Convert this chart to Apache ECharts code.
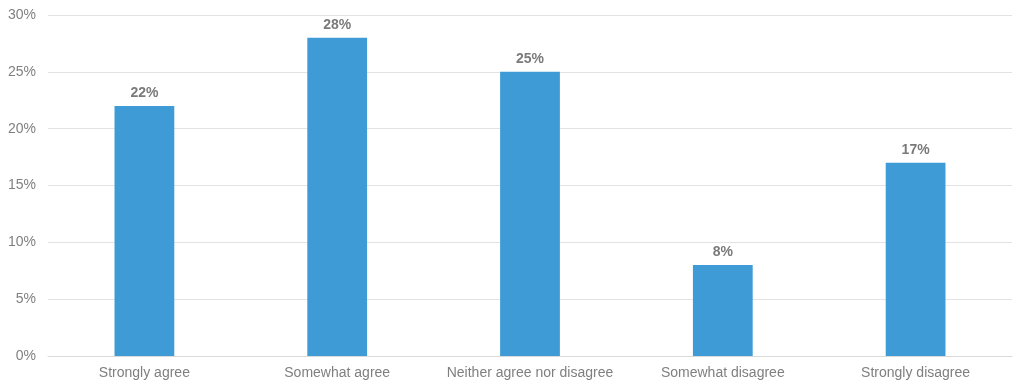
<!DOCTYPE html>
<html><head><meta charset="utf-8">
<script src="https://cdn.jsdelivr.net/npm/echarts@6/dist/echarts.min.js"></script>
<style>html,body{margin:0;padding:0;background:#fff}#c{width:1024px;height:390px}</style>
</head><body><div id="c"></div>
<script>
const categories = ["Strongly agree", "Somewhat agree", "Neither agree nor disagree", "Somewhat disagree", "Strongly disagree"];
const values = [22, 28, 25, 8, 17];
const yTicks = [0, 5, 10, 15, 20, 25, 30];

const chart = echarts.init(document.getElementById('c'));
chart.setOption({
  animation: false,
  grid: { left: 48, right: 12, top: 15, bottom: 34, containLabel: false },
  xAxis: {
    type: 'category', data: categories,
    axisLine: { show: true, lineStyle: { color: '#d9d9d9', width: 1 } },
    axisTick: { show: false },
    axisLabel: { interval: 0, color: '#7f7f7f', fontFamily: 'Liberation Sans, Arial, sans-serif', fontSize: 14, margin: 10 }
  },
  yAxis: {
    type: 'value', min: yTicks[0], max: yTicks[yTicks.length - 1], interval: 5,
    axisLine: { show: false }, axisTick: { show: false },
    splitLine: { lineStyle: { color: '#e3e3e3', width: 1 } },
    axisLabel: { color: '#808080', fontFamily: 'Liberation Sans, Arial, sans-serif', fontSize: 14, margin: 12, formatter: v => v + '%' }
  },
  series: [{
    type: 'bar', data: values, barWidth: '31%',
    itemStyle: { color: '#3e9bd5' },
    label: { show: true, position: 'top', distance: 6, color: '#7a7a7a', fontWeight: 'bold',
      fontFamily: 'Liberation Sans, Arial, sans-serif', fontSize: 14, formatter: p => p.value + '%' }
  }]
});
</script></body></html>
